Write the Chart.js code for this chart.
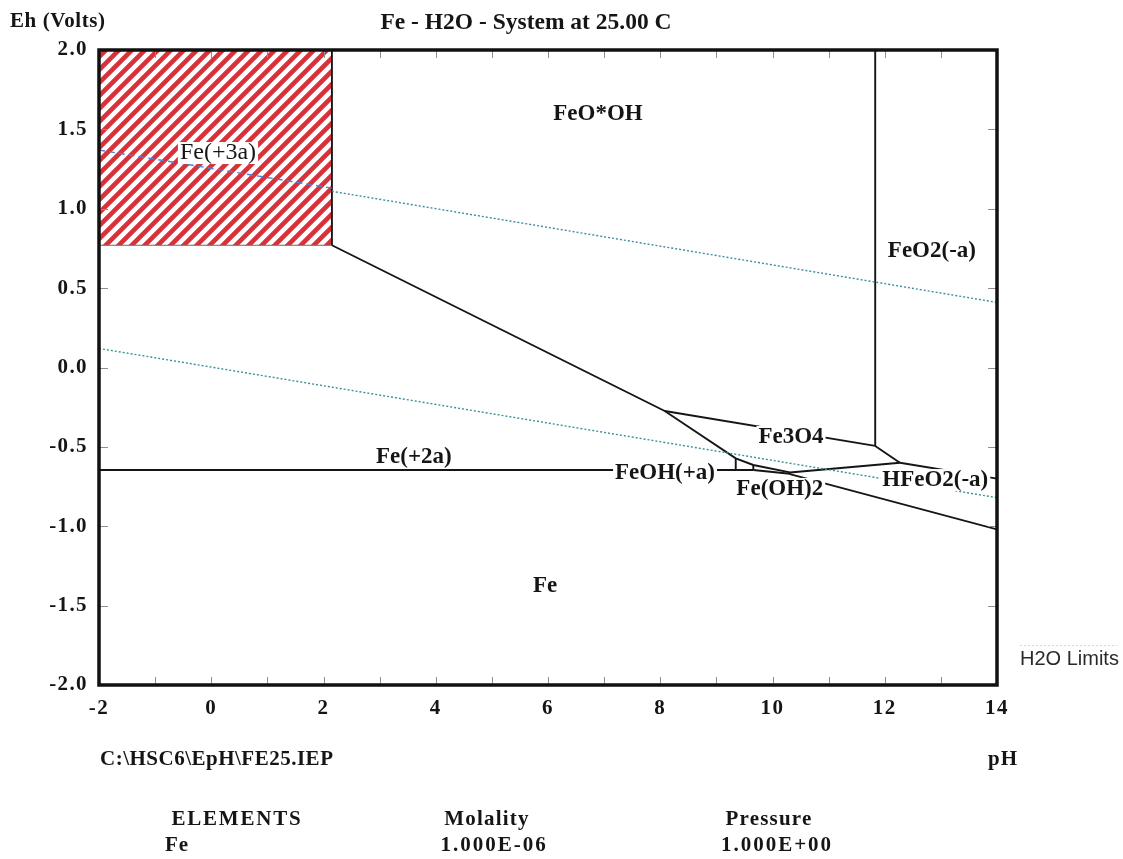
<!DOCTYPE html>
<html>
<head>
<meta charset="utf-8">
<title>Fe - H2O - System at 25.00 C</title>
<script src="https://cdn.jsdelivr.net/npm/chart.js@4.4.0/dist/chart.umd.min.js"></script>
<style>
  html, body { margin: 0; padding: 0; background: #fff; }
  #wrap { width: 1123px; height: 859px; }
</style>
</head>
<body>
<div id="wrap"><canvas id="eph" width="1123" height="859"></canvas></div>
<script>
// Eh - pH diagram, Fe - H2O at 25 C (HSC6 EpH export)

// axis ticks that carry a label
const phTicks = [-2, 0, 2, 4, 6, 8, 10, 12, 14];
const ehTicks = [2.0, 1.5, 1.0, 0.5, 0.0, -0.5, -1.0, -1.5, -2.0];

// Fe(+3a) field (hatched), lower edge - fills up to Eh 2.0
const fe3Field = [[-2, 0.77], [2.15, 0.77]];

// H2O limits (dotted)
const o2InField = [[-2, 1.37], [2.15, 1.13]];
const o2Limit = [[2.15, 1.11], [14, 0.41]];
const h2Limit = [[-2, 0.12], [14, -0.82]];

// phase boundaries [pH, Eh]
const bFe3Edge = [[2.15, 2.0], [2.15, 0.77]];
const bFeOOH = [[2.15, 0.77], [8.08, -0.274], [9.345, -0.572], [9.658, -0.614], [10.31, -0.661]];
const bFe3O4Top = [[8.08, -0.274], [11.83, -0.494]];
const bFeO2 = [[11.83, 2.0], [11.83, -0.494]];
const bFe3O4Right = [[11.83, -0.494], [12.27, -0.60]];
const bHFeO2Top = [[12.27, -0.60], [14, -0.70]];
const bFe3O4Low = [[12.27, -0.60], [10.31, -0.661]];
const bFe2 = [[-2, -0.646], [9.658, -0.646]];
const bFeOHa = [[9.345, -0.572], [9.345, -0.646]];
const bFeOH2a = [[9.658, -0.614], [9.658, -0.646]];
const bFeOH2Low = [[9.658, -0.646], [10.31, -0.669]];
const bTick = [[10.31, -0.661], [10.31, -0.672]];
const bFe = [[10.31, -0.672], [14, -1.02]];

// species labels
const regionNames = ['FeO*OH', 'Fe(+3a)', 'FeO2(-a)', 'Fe3O4', 'Fe(+2a)', 'FeOH(+a)', 'Fe(OH)2', 'HFeO2(-a)', 'Fe'];
const regionPh = [6.89, 0.12, 12.84, 10.33, 3.61, 8.085, 10.13, 12.90, 5.95];
const regionEh = [1.597, 1.351, 0.734, -0.438, -0.564, -0.665, -0.765, -0.709, -1.376];
const boxedNames = ['Fe(+3a)', 'Fe3O4', 'FeOH(+a)', 'Fe(OH)2', 'HFeO2(-a)'];

// footer table
const elements = ['Fe'];
const molality = ['1.000E-06'];
const pressure = ['1.000E+00'];

const SERIF = '"Liberation Serif", "Times New Roman", serif';
const SANS = '"Liberation Sans", Arial, sans-serif';
const INK = '#151515';

// red diagonal hatch, lines run past the tile so it repeats without seams
function makeHatch() {
    const s = 13;
    const c = document.createElement('canvas');
    c.width = s; c.height = s;
    const g = c.getContext('2d');
    g.fillStyle = '#fff';
    g.fillRect(0, 0, s, s);
    g.strokeStyle = '#d8313a';
    g.lineWidth = 4.6;
    g.lineCap = 'square';
    for (let k = -2; k <= 2; k++) {
        g.beginPath();
        g.moveTo(k * s - s, 2 * s);
        g.lineTo(k * s + 2 * s, -s);
        g.stroke();
    }
    return g.createPattern(c, 'repeat');
}

function pts(arr) {
    return arr.map(function(p) { return { x: p[0], y: p[1] }; });
}

function boundary(arr) {
    return { data: pts(arr), borderColor: INK, borderWidth: 1.9, fill: false };
}

function txt(ctx, s, x, y, size, align, spacing, weight, family) {
    ctx.font = (weight || 'bold') + ' ' + size + 'px ' + (family || SERIF);
    ctx.letterSpacing = (spacing || 0) + 'px';
    ctx.textAlign = align;
    ctx.textBaseline = 'middle';
    ctx.fillText(s, x, y);
}

const diagramPlugin = {
    id: 'diagram',
    beforeDraw(chart) {
        // tick labels of the original are spaced out a little
        chart.ctx.letterSpacing = '1.4px';
    },
    afterDatasetsDraw(chart) {
        const ctx = chart.ctx, xs = chart.scales.x, ys = chart.scales.y, a = chart.chartArea;
        ctx.save();
        ctx.letterSpacing = '0px';

        // short inside ticks on all four sides
        ctx.strokeStyle = '#8f8f8f';
        ctx.lineWidth = 1;
        ctx.beginPath();
        xs.ticks.forEach(function(t) {
            const px = Math.round(xs.getPixelForValue(t.value)) + 0.5;
            ctx.moveTo(px, a.top); ctx.lineTo(px, a.top + 8);
            ctx.moveTo(px, a.bottom); ctx.lineTo(px, a.bottom - 8);
        });
        ys.ticks.forEach(function(t) {
            const py = Math.round(ys.getPixelForValue(t.value)) + 0.5;
            ctx.moveTo(a.left, py); ctx.lineTo(a.left + 9, py);
            ctx.moveTo(a.right, py); ctx.lineTo(a.right - 9, py);
        });
        ctx.stroke();

        // species names
        regionNames.forEach(function(name, i) {
            const cx = xs.getPixelForValue(regionPh[i]);
            const cy = ys.getPixelForValue(regionEh[i]);
            const plain = name === 'Fe(+3a)';
            ctx.font = (plain ? 'normal 24px ' : 'bold 23px ') + SERIF;
            if (boxedNames.indexOf(name) >= 0) {
                const w = ctx.measureText(name).width;
                ctx.fillStyle = '#fff';
                ctx.fillRect(cx - w / 2 - 2, cy - 11, w + 4, 22);
            }
            ctx.fillStyle = INK;
            txt(ctx, name, cx, cy, plain ? 24 : 23, 'center', 0, plain ? 'normal' : 'bold');
        });

        // frame
        ctx.strokeStyle = '#111';
        ctx.lineWidth = 3.5;
        ctx.strokeRect(a.left, a.top, a.right - a.left, a.bottom - a.top);
        ctx.restore();
    },
    afterDraw(chart) {
        const ctx = chart.ctx, a = chart.chartArea;
        ctx.save();
        ctx.fillStyle = INK;
        txt(ctx, 'Eh (Volts)', 10, 22, 21, 'left', 0.6);
        txt(ctx, 'Fe - H2O - System at 25.00 C', 526, 23, 23.5, 'center', 0);

        // legend for the dotted lines
        ctx.strokeStyle = '#d6d6d6';
        ctx.lineWidth = 1;
        ctx.setLineDash([2, 2]);
        ctx.beginPath();
        ctx.moveTo(a.right + 23, 645.5); ctx.lineTo(a.right + 120, 645.5);
        ctx.stroke();
        ctx.setLineDash([]);
        ctx.fillStyle = '#2a2a2a';
        txt(ctx, 'H2O Limits', a.right + 23, 659, 20, 'left', 0, 'normal', SANS);

        ctx.fillStyle = INK;
        txt(ctx, 'C:\\HSC6\\EpH\\FE25.IEP', 100, 760, 21, 'left', 0.5);
        txt(ctx, 'pH', 1003, 760, 21, 'center', 1);
        txt(ctx, 'ELEMENTS', 237, 820, 21, 'center', 1.8);
        txt(ctx, 'Molality', 487, 820, 21, 'center', 1.2);
        txt(ctx, 'Pressure', 769, 820, 21, 'center', 1.2);
        elements.forEach(function(el, i) {
            const y = 846 + i * 24;
            txt(ctx, el, 177, y, 21, 'center', 1);
            txt(ctx, molality[i], 494, y, 21, 'center', 2);
            txt(ctx, pressure[i], 777, y, 21, 'center', 2);
        });
        ctx.restore();
    }
};

const tickFont = { family: SERIF, size: 21, weight: 'bold' };

new Chart(document.getElementById('eph'), {
    type: 'line',
    data: {
        datasets: [
            // hatch goes to the back (higher order is drawn first)
            { data: pts(fe3Field), order: 10, fill: 'end', backgroundColor: makeHatch(), borderColor: '#6a6a6a', borderWidth: 1.2 },
            { data: pts(o2InField), borderColor: '#4a82d4', borderWidth: 1.4, borderDash: [6, 4], fill: false },
            { data: pts(o2Limit), borderColor: '#3c9098', borderWidth: 1.4, borderDash: [2, 2], fill: false },
            { data: pts(h2Limit), borderColor: '#3c9098', borderWidth: 1.4, borderDash: [2, 2], fill: false },
            boundary(bFe3Edge),
            boundary(bFeOOH),
            boundary(bFe3O4Top),
            boundary(bFeO2),
            boundary(bFe3O4Right),
            boundary(bHFeO2Top),
            boundary(bFe3O4Low),
            boundary(bFe2),
            boundary(bFeOHa),
            boundary(bFeOH2a),
            boundary(bFeOH2Low),
            boundary(bTick),
            boundary(bFe)
        ]
    },
    options: {
        responsive: false,
        animation: false,
        events: [],
        layout: { padding: { top: 50, right: 126, bottom: 134, left: 0 } },
        elements: { point: { radius: 0 }, line: { tension: 0 } },
        plugins: {
            legend: { display: false },
            tooltip: { enabled: false },
            title: { display: false }
        },
        scales: {
            x: {
                type: 'linear',
                min: -2,
                max: 14,
                afterFit: function(s) { s.height = 40; },
                grid: { display: false, drawTicks: false },
                border: { display: false },
                ticks: {
                    stepSize: 1,
                    autoSkip: false,
                    maxRotation: 0,
                    padding: 11,
                    color: INK,
                    font: tickFont,
                    callback: function(v) { return phTicks.indexOf(v) >= 0 ? String(v) : ''; }
                }
            },
            y: {
                type: 'linear',
                min: -2,
                max: 2,
                afterFit: function(s) { s.width = 99; },
                grid: { display: false, drawTicks: false },
                border: { display: false },
                ticks: {
                    stepSize: 0.5,
                    padding: 11,
                    color: INK,
                    font: tickFont,
                    callback: function(v) {
                        const hit = ehTicks.some(function(t) { return Math.abs(t - v) < 1e-9; });
                        return hit ? v.toFixed(1) : '';
                    }
                }
            }
        }
    },
    plugins: [diagramPlugin]
});
</script>
</body>
</html>
